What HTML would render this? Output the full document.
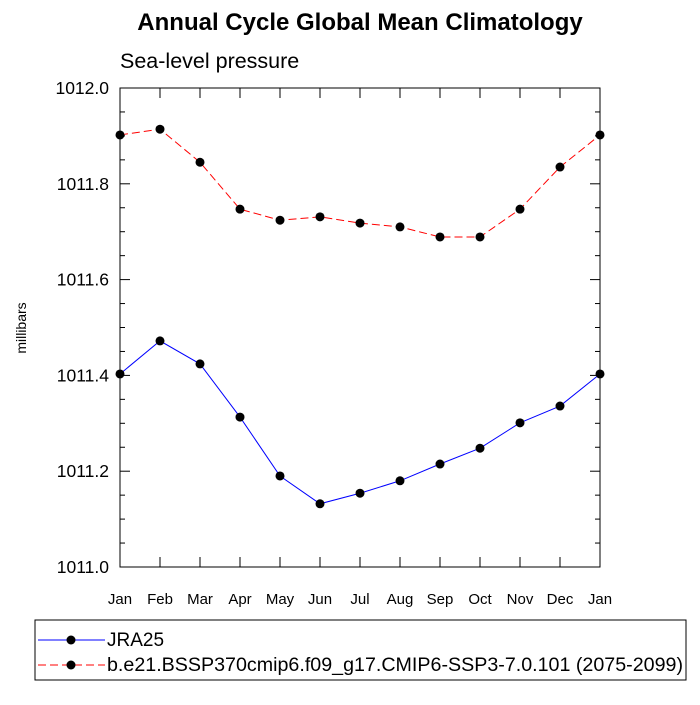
<!DOCTYPE html>
<html><head><meta charset="utf-8"><style>
body{margin:0;background:#fff}
svg text{font-family:"Liberation Sans",sans-serif}
</style></head><body>
<svg id="chart" width="700" height="700" xmlns="http://www.w3.org/2000/svg">
<text x="360" y="30" text-anchor="middle" font-size="24" font-weight="bold">Annual Cycle Global Mean Climatology</text>
<text x="120" y="68" font-size="21.5">Sea-level pressure</text>
<text transform="translate(26,328) rotate(-90)" text-anchor="middle" font-size="14">millibars</text>
<g id="plot"></g>
<g>
<rect x="35" y="620" width="651" height="60" fill="none" stroke="#000"/>
<g>
<line x1="38" y1="640" x2="105" y2="640" stroke="#00f"/><circle cx="71" cy="640" r="4.5"/>
<text x="107" y="646" font-size="19">JRA25</text></g>
<g>
<line x1="38" y1="665" x2="105" y2="665" stroke="#f00" stroke-dasharray="8,4"/><circle cx="71" cy="665" r="4.5"/>
<text x="107" y="671" font-size="19" textLength="576" lengthAdjust="spacingAndGlyphs">b.e21.BSSP370cmip6.f09_g17.CMIP6-SSP3-7.0.101 (2075-2099)</text></g>
</g>
</svg>
<script>
const months=["Jan","Feb","Mar","Apr","May","Jun","Jul","Aug","Sep","Oct","Nov","Dec","Jan"];
const jra25=[1011.403,1011.472,1011.424,1011.313,1011.190,1011.132,1011.154,1011.180,1011.215,1011.248,1011.301,1011.336,1011.403];
const model=[1011.902,1011.914,1011.845,1011.747,1011.724,1011.731,1011.718,1011.710,1011.689,1011.689,1011.747,1011.835,1011.902];
const yTicks=[1011.0,1011.2,1011.4,1011.6,1011.8,1012.0];
const yMin=1011.0,yMax=1012.0;
const L=120,R=600,T=88,B=567;
const xs=i=>L+i*(R-L)/(months.length-1);
const ys=v=>B-(v-yMin)/(yMax-yMin)*(B-T);
const NS="http://www.w3.org/2000/svg";
const g=document.getElementById("plot");
function mk(t,a,p){const e=document.createElementNS(NS,t);for(const k in a)e.setAttribute(k,a[k]);(p||g).appendChild(e);return e;}
const frame=mk("rect",{x:L,y:T,width:R-L,height:B-T,fill:"none",stroke:"#000","stroke-width":1});


for(let v=yMin;v<=yMax+1e-9;v+=0.05){
  const y=ys(v);const major=Math.abs((v-yMin)/0.2-Math.round((v-yMin)/0.2))<1e-6;const len=major?10:5;
  const t1=mk("line",{x1:L,x2:L+len,y1:y,y2:y,stroke:"#000"});
  
  
  const t2=mk("line",{x1:R,x2:R-len,y1:y,y2:y,stroke:"#000"});
  
  
}
yTicks.forEach(v=>{
  const t=mk("text",{x:L-11,y:ys(v)+6,"text-anchor":"end","font-size":17.5});t.textContent=v.toFixed(1);
  
  
});
months.forEach((m,i)=>{
  const x=xs(i);
  const a=mk("line",{x1:x,x2:x,y1:B,y2:B-10,stroke:"#000"});
  
  
  const b=mk("line",{x1:x,x2:x,y1:T,y2:T+10,stroke:"#000"});
  
  
  const t=mk("text",{x:x,y:B+37,"text-anchor":"middle","font-size":15});t.textContent=m;
  
  
});
function series(vals,color,dash,name){
  const p=mk("polyline",{points:vals.map((v,i)=>xs(i)+","+ys(v)).join(" "),fill:"none",stroke:color,"stroke-width":1,"stroke-dasharray":dash});
  
  
  vals.forEach((v,i)=>{const c=mk("circle",{cx:xs(i),cy:ys(v),r:4.5,fill:"#000"});
    
    });
}
series(model,"#f00","8,4","model");
series(jra25,"#00f","none","jra25");
</script>
</body></html>
